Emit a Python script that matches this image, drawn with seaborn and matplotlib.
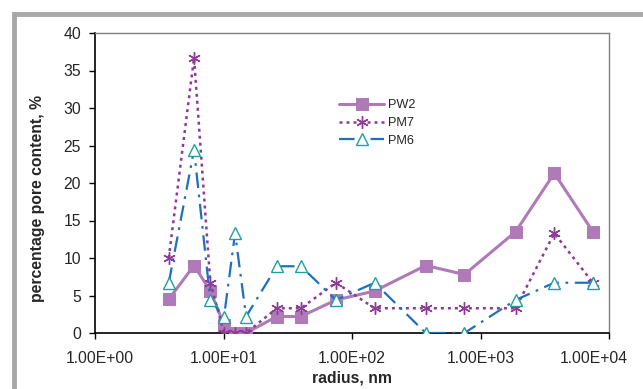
import numpy as np
import pandas as pd
import matplotlib
matplotlib.use("Agg")
import matplotlib.pyplot as plt
import seaborn as sns
from matplotlib.patches import Rectangle
from matplotlib.transforms import ScaledTranslation
from matplotlib.ticker import FuncFormatter, FixedLocator, NullLocator

# pore radius (nm) and percentage pore content per sample
radius = [3.75, 5.9, 7.9, 10.1, 12.3, 15.0, 26.0, 40.0, 75.0, 150.0,
          375.0, 750.0, 1875.0, 3750.0, 7500.0]
pw2 = [4.5, 9.0, 5.6, 1.1, 0.0, 0.0, 2.2, 2.2, 4.4, 5.6, 9.0, 7.8, 13.5, 21.3, 13.5]
pm7 = [10.0, 36.7, 6.7, 0.0, 0.0, 0.0, 3.3, 3.3, 6.7, 3.3, 3.3, 3.3, 3.3, 13.3, 6.7]
pm6 = [6.7, 24.4, 4.4, 2.2, 13.3, 2.2, 8.9, 8.9, 4.4, 6.7, 0.0, 0.0, 4.4, 6.7, 6.7]

df = pd.DataFrame({"radius": radius, "PW2": pw2, "PM7": pm7, "PM6": pm6})

sns.set_style("white")
plt.rcParams["font.family"] = ["Liberation Sans", "DejaVu Sans"]

fig = plt.figure(figsize=(6.43, 3.89), dpi=100)
ax = fig.add_axes([95 / 643, 1 - 333 / 389, 514 / 643, 300 / 389])

# gray chart-area frame (only top and left visible)
fig.patches.append(Rectangle((13.5 / 643, -0.2), 1.2, 1.2 - 14.0 / 389,
                             transform=fig.transFigure, fill=False,
                             edgecolor="#A8A8A8", linewidth=3.5, zorder=0))

sns.lineplot(data=df, x="radius", y="PW2", ax=ax, color="#B07AB9", linewidth=2.2,
             marker="s", markersize=8, markeredgecolor="#B07AB9",
             label="PW2", zorder=3)
sns.lineplot(data=df, x="radius", y="PM7", ax=ax, color="#8E3A97", linewidth=1.8,
             marker=(6, 2, 0), markersize=9, markeredgecolor="#8E3A97",
             markeredgewidth=1.0, dashes=(1.2, 1.6), label="PM7", zorder=4)
sns.lineplot(data=df, x="radius", y="PM6", ax=ax, color="#1F6FBF", linewidth=1.6,
             marker="^", markersize=8, markerfacecolor="white",
             markeredgecolor="#1FA0A0", markeredgewidth=1.0,
             dashes=(7, 3, 1.2, 3), label="PM6", zorder=5)

ax.set_xscale("log")
ax.set_xlim(1, 1e4)
ax.set_ylim(0, 40)
ax.xaxis.set_major_locator(FixedLocator([1, 10, 100, 1000, 10000]))
ax.xaxis.set_minor_locator(NullLocator())
ax.xaxis.set_major_formatter(FuncFormatter(lambda v, p: "%.2E" % v))
ax.set_yticks(np.arange(0, 41, 5))

ax.tick_params(axis="both", direction="out", length=4, width=1, color="black",
               labelsize=11.3, bottom=True, left=True)
ax.tick_params(axis="y", pad=6)
ax.tick_params(axis="x", pad=9)

# keep the end labels inside the chart like Excel does
xlabels = ax.get_xticklabels()
xlabels[0].set_transform(xlabels[0].get_transform()
                         + ScaledTranslation(5 / 100, 0, fig.dpi_scale_trans))
xlabels[-1].set_transform(xlabels[-1].get_transform()
                          + ScaledTranslation(-15 / 100, 0, fig.dpi_scale_trans))

for side in ["left", "bottom"]:
    ax.spines[side].set_color("black")
    ax.spines[side].set_linewidth(1.2)
for side in ["top", "right"]:
    ax.spines[side].set_color("#808080")
    ax.spines[side].set_linewidth(1.0)

ax.set_xlabel("radius, nm", fontsize=11.3, fontweight="bold", labelpad=3)
ax.set_ylabel("percentage pore content, %", fontsize=11.3, fontweight="bold")
ax.yaxis.set_label_coords(-0.097, 0.447)

ax.legend(loc="upper left", bbox_to_anchor=(0.463, 0.80), frameon=False,
          fontsize=9.2, handlelength=3.5, handletextpad=0.3, labelspacing=0.45,
          borderpad=0)

fig.savefig("out.png", dpi=100)
